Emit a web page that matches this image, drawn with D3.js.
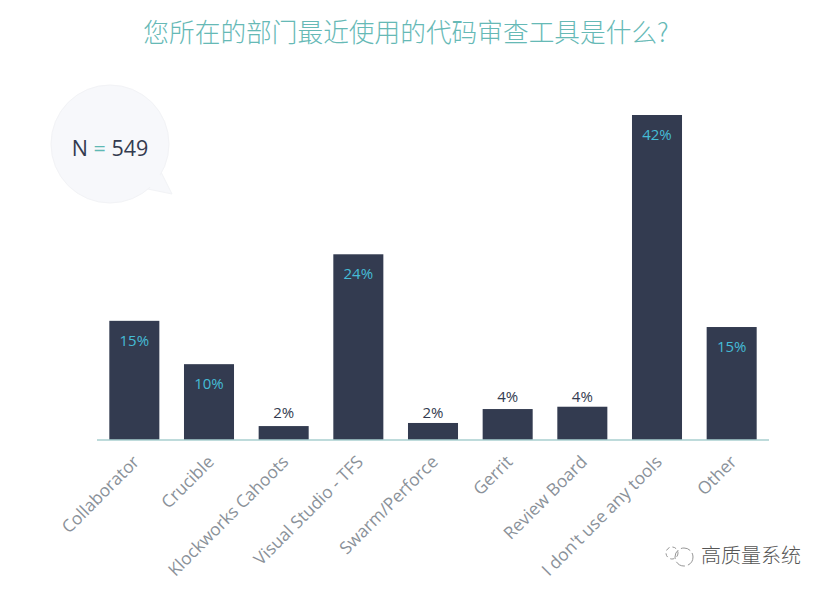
<!DOCTYPE html>
<html><head><meta charset="utf-8">
<script src="https://cdn.jsdelivr.net/npm/d3@7"></script>
<style>html,body{margin:0;padding:0;background:#fff}svg{display:block}text{font-family:"Open Sans",sans-serif}</style>
</head><body><svg id="c" width="827" height="591"></svg>
<script>
const categories=["Collaborator","Crucible","Klockworks Cahoots","Visual Studio - TFS","Swarm/Perforce","Gerrit","Review Board","I don't use any tools","Other"];
const values=[15.4,9.8,1.8,24,2.2,4,4.3,42,14.6];
const valueLabels=["15%","10%","2%","24%","2%","4%","4%","42%","15%"];
const titleText="您所在的部门最近使用的代码审查工具是什么?";
const watermark="高质量系统";

const svg=d3.select("#c");
const x=d3.scaleBand().domain(categories).range([97,769]).paddingInner(0.33).paddingOuter(0.165);
const y=d3.scaleLinear().domain([0,42]).range([440,115]);

svg.append("text").attr("x",406).attr("y",42).attr("text-anchor","middle")
 .style("font-family",'"Noto Sans CJK SC"').style("font-weight",300).style("font-size","25.7px").attr("fill","#66b9b6").text(titleText);

// bubble
svg.append("path").attr("d","M143,188 L172,194 L160,170 Z").attr("fill","#f7f8fb").attr("stroke","#f2f3f6");
svg.append("circle").attr("cx",110).attr("cy",144).attr("r",59).attr("fill","#f7f8fb").attr("stroke","#f2f3f6");
svg.append("path").attr("d","M145,186 L170,192 L158,172 Z").attr("fill","#f7f8fb");
const n=svg.append("text").attr("x",110).attr("y",156).attr("text-anchor","middle").style("font-size","21.5px").attr("fill","#333b4f");
n.append("tspan").text("N ");
n.append("tspan").attr("fill","#5fb8b4").text("=");
n.append("tspan").text(" 549");

svg.selectAll("rect.bar").data(categories).join("rect").attr("class","bar")
 .attr("x",d=>x(d)).attr("width",x.bandwidth())
 .attr("y",(d,i)=>y(values[i])).attr("height",(d,i)=>y(0)-y(values[i])).attr("fill","#333b50");

svg.append("line").attr("x1",97).attr("x2",769).attr("y1",440).attr("y2",440).attr("stroke","#a9cfcf").attr("stroke-width",1.5);

svg.selectAll("text.val").data(categories).join("text").attr("class","val")
 .attr("x",d=>x(d)+x.bandwidth()/2)
 .attr("y",(d,i)=>values[i]>=8?y(values[i])+25:y(parseInt(valueLabels[i]))-7)
 .attr("text-anchor","middle").style("font-size","15px")
 .style("font-weight",(d,i)=>values[i]>=8?500:400)
 .attr("fill",(d,i)=>values[i]>=8?"#45bcd6":"#333b50")
 .text((d,i)=>valueLabels[i]);

svg.selectAll("text.cat").data(categories).join("text").attr("class","cat")
 .attr("text-anchor","end")
 .attr("transform",d=>`translate(${x(d)+x.bandwidth()/2+6},${463}) rotate(-45)`)
 .style("font-size","17.3px").attr("fill","#8a9199").text(d=>d);

// watermark
const wm=svg.append("g").attr("fill","none").attr("stroke","#8a8a8a").attr("stroke-width",0.9);
wm.append("circle").attr("cx",684).attr("cy",557).attr("r",9).attr("stroke-dasharray","10 3");
wm.append("circle").attr("cx",672).attr("cy",553).attr("r",6).attr("stroke-dasharray","4 3");
svg.append("text").attr("x",701).attr("y",563).style("font-family",'"Noto Sans CJK SC"').style("font-weight",300).style("font-size","20px").attr("fill","#555").text(watermark);
</script></body></html>
